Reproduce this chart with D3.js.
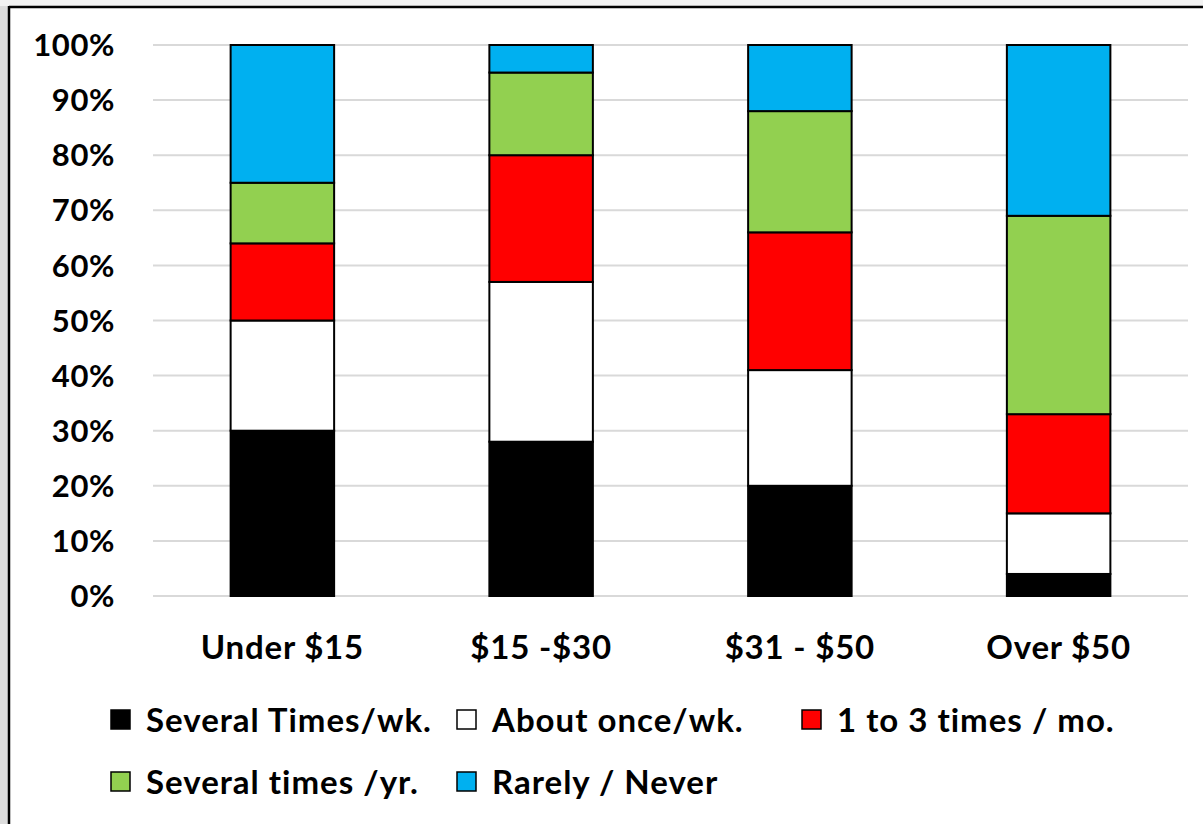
<!DOCTYPE html>
<html><head><meta charset="utf-8">
<script src="https://cdn.jsdelivr.net/npm/d3@7"></script>
<style>
html,body{margin:0;padding:0;background:#fff;}
svg{display:block;font-family:Lato, "Open Sans", sans-serif;font-weight:bold;}
</style></head>
<body>
<svg id="c" width="1203" height="824"></svg>
<script>
const categories = ["Under $15", "$15 -$30", "$31 - $50", "Over $50"];
const seriesNames = ["Several Times/wk.", "About once/wk.", "1 to 3 times / mo.", "Several times /yr.", "Rarely / Never"];
const seriesColors = ["#000000", "#ffffff", "#ff0000", "#92d050", "#00b0f0"];
const severalWk = [30, 28, 20, 4];
const onceWk = [20, 29, 21, 11];
const oneToThreeMo = [14, 23, 25, 18];
const severalYr = [11, 15, 22, 36];
const rarelyNever = [25, 5, 12, 31];
const yTicks = [0, 10, 20, 30, 40, 50, 60, 70, 80, 90, 100];

const seriesValues = [severalWk, onceWk, oneToThreeMo, severalYr, rarelyNever];
const rows = categories.map((c, i) => {
  const r = {cat: c};
  seriesNames.forEach((s, j) => r[s] = seriesValues[j][i]);
  return r;
});

const svg = d3.select("#c");
// frame
svg.append("rect").attr("x",0).attr("y",0).attr("width",1203).attr("height",824).attr("fill","#dcdcdc");
svg.append("rect").attr("x",0).attr("y",0).attr("width",1203).attr("height",6).attr("fill","#f2f2f2");
svg.append("rect").attr("x",10).attr("y",8).attr("width",1193).attr("height",816).attr("fill","#fff");
svg.append("line").attr("x1",9).attr("x2",1203).attr("y1",7).attr("y2",7).attr("stroke","#000").attr("stroke-width",2.5);
svg.append("line").attr("x1",9).attr("x2",9).attr("y1",6).attr("y2",824).attr("stroke","#000").attr("stroke-width",2.5);

const x = d3.scaleBand().domain(categories).range([153, 1188]).paddingInner(0.6).paddingOuter(0.3);
const y = d3.scaleLinear().domain([0, 100]).range([596, 45]);

// gridlines
svg.append("g").selectAll("line").data(yTicks).join("line")
  .attr("x1", 153).attr("x2", 1188)
  .attr("y1", d => y(d)).attr("y2", d => y(d))
  .attr("stroke", "#d9d9d9").attr("stroke-width", 2);

// y axis labels
svg.append("g").selectAll("text").data(yTicks).join("text")
  .attr("x", 115).attr("y", d => y(d)).attr("dy", "0.36em")
  .attr("text-anchor", "end").attr("font-size", 31).attr("letter-spacing", 0.6).attr("fill", "#000")
  .text(d => d + "%");

const stack = d3.stack().keys(seriesNames);
const stacked = stack(rows);

svg.append("g").selectAll("g").data(stacked).join("g")
  .attr("fill", (d, i) => seriesColors[i])
  .selectAll("rect").data(d => d).join("rect")
  .attr("x", d => x(d.data.cat))
  .attr("width", x.bandwidth())
  .attr("y", d => y(d[1]))
  .attr("height", d => y(d[0]) - y(d[1]))
  .attr("stroke", "#000").attr("stroke-width", 2);

// x labels
svg.append("g").selectAll("text").data(categories).join("text")
  .attr("x", d => x(d) + x.bandwidth() / 2).attr("y", 659)
  .attr("text-anchor", "middle").attr("font-size", 33).attr("letter-spacing", 0.8).attr("fill", "#000")
  .text(d => d);

// legend
const legendPos = [[111, 720], [457, 720], [802, 720], [111, 782], [457, 782]];
const lg = svg.append("g").selectAll("g").data(seriesNames).join("g")
  .attr("transform", (d, i) => `translate(${legendPos[i][0]},${legendPos[i][1]})`);
lg.append("rect").attr("x", 0).attr("y", -10).attr("width", 19).attr("height", 19)
  .attr("fill", (d, i) => seriesColors[i]).attr("stroke", "#000").attr("stroke-width", 1.5);
lg.append("text").attr("x", 35).attr("y", 0).attr("dy", "0.36em")
  .attr("font-size", 33).attr("letter-spacing", 1).attr("fill", "#000").text(d => d);
</script>
</body></html>
